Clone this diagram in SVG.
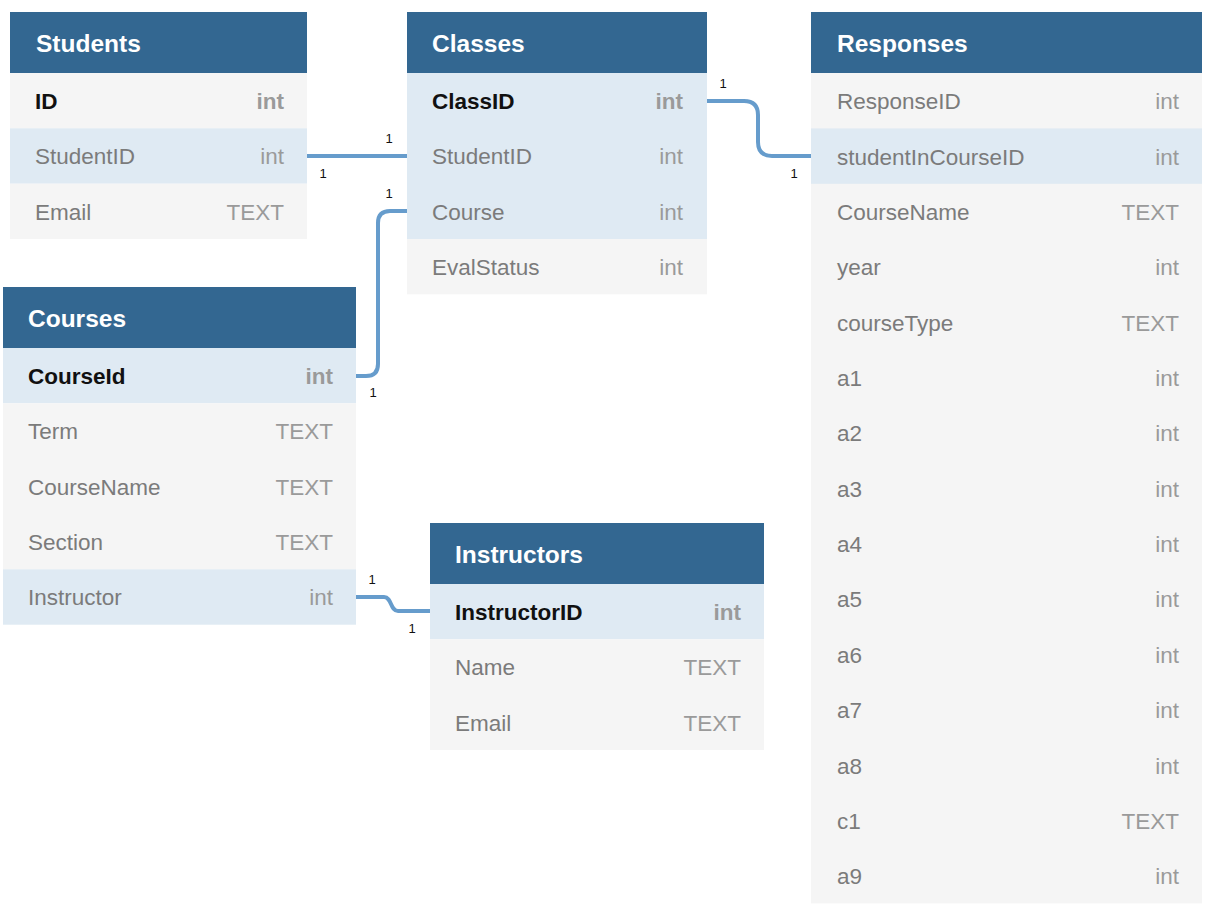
<svg xmlns="http://www.w3.org/2000/svg" width="1216" height="912" viewBox="0 0 1216 912">
<style>
.hd{fill:#336791}
.rg{fill:#f5f5f5}
.rh{fill:#dfeaf3}
.ht{font-family:"Liberation Sans",Arial,sans-serif;font-size:24.5px;font-weight:bold;fill:#ffffff}
.fn{font-family:"Liberation Sans",Arial,sans-serif;font-size:22.5px;fill:#7b7b7b}
.pk{font-family:"Liberation Sans",Arial,sans-serif;font-size:22.5px;font-weight:bold;fill:#111111}
.ty{font-family:"Liberation Sans",Arial,sans-serif;font-size:22.5px;fill:#9a9a9a;text-anchor:end}
.tk{font-family:"Liberation Sans",Arial,sans-serif;font-size:22.5px;font-weight:bold;fill:#9a9a9a;text-anchor:end}
.cn{fill:none;stroke:#669ccc;stroke-width:4}
.lb{font-family:"Liberation Sans",Arial,sans-serif;font-size:13px;fill:#111111;text-anchor:middle}
</style>
<rect width="1216" height="912" fill="#ffffff"/>

<g id="Students">
<rect class="hd" x="10" y="12" width="297" height="61"/>
<text class="ht" x="36" y="52">Students</text>
<rect class="rg" x="10" y="73" width="297" height="55.3"/>
<text class="pk" x="35" y="109">ID</text><text class="tk" x="284" y="109">int</text>
<rect class="rh" x="10" y="128.3" width="297" height="55.4"/>
<text class="fn" x="35" y="164">StudentID</text><text class="ty" x="284" y="164">int</text>
<rect class="rg" x="10" y="183.7" width="297" height="55.3"/>
<text class="fn" x="35" y="219.5">Email</text><text class="ty" x="284" y="219.5">TEXT</text>
</g>

<g id="Classes">
<rect class="hd" x="407" y="12" width="300" height="61"/>
<text class="ht" x="432" y="52">Classes</text>
<rect class="rh" x="407" y="73" width="300" height="166"/>
<text class="pk" x="432" y="109">ClassID</text><text class="tk" x="683" y="109">int</text>
<text class="fn" x="432" y="164">StudentID</text><text class="ty" x="683" y="164">int</text>
<text class="fn" x="432" y="219.5">Course</text><text class="ty" x="683" y="219.5">int</text>
<rect class="rg" x="407" y="239" width="300" height="55.3"/>
<text class="fn" x="432" y="275">EvalStatus</text><text class="ty" x="683" y="275">int</text>
</g>

<g id="Responses">
<rect class="hd" x="811" y="12" width="391" height="61"/>
<text class="ht" x="837" y="52">Responses</text>
<rect class="rg" x="811" y="73" width="391" height="830.4"/>
<rect class="rh" x="811" y="128.4" width="391" height="55.4"/>
<text class="fn" x="837" y="109">ResponseID</text><text class="ty" x="1179" y="109">int</text>
<text class="fn" x="837" y="164.5">studentInCourseID</text><text class="ty" x="1179" y="164.5">int</text>
<text class="fn" x="837" y="220">CourseName</text><text class="ty" x="1179" y="220">TEXT</text>
<text class="fn" x="837" y="275.2">year</text><text class="ty" x="1179" y="275.2">int</text>
<text class="fn" x="837" y="330.6">courseType</text><text class="ty" x="1179" y="330.6">TEXT</text>
<text class="fn" x="837" y="386">a1</text><text class="ty" x="1179" y="386">int</text>
<text class="fn" x="837" y="441.3">a2</text><text class="ty" x="1179" y="441.3">int</text>
<text class="fn" x="837" y="496.7">a3</text><text class="ty" x="1179" y="496.7">int</text>
<text class="fn" x="837" y="552">a4</text><text class="ty" x="1179" y="552">int</text>
<text class="fn" x="837" y="607.4">a5</text><text class="ty" x="1179" y="607.4">int</text>
<text class="fn" x="837" y="662.8">a6</text><text class="ty" x="1179" y="662.8">int</text>
<text class="fn" x="837" y="718.1">a7</text><text class="ty" x="1179" y="718.1">int</text>
<text class="fn" x="837" y="773.5">a8</text><text class="ty" x="1179" y="773.5">int</text>
<text class="fn" x="837" y="828.8">c1</text><text class="ty" x="1179" y="828.8">TEXT</text>
<text class="fn" x="837" y="884.2">a9</text><text class="ty" x="1179" y="884.2">int</text>
</g>

<g id="Courses">
<rect class="hd" x="3" y="287" width="353" height="61"/>
<text class="ht" x="28" y="327">Courses</text>
<rect class="rh" x="3" y="348" width="353" height="55.3"/>
<text class="pk" x="28" y="384">CourseId</text><text class="tk" x="333" y="384">int</text>
<rect class="rg" x="3" y="403.3" width="353" height="166"/>
<text class="fn" x="28" y="439.3">Term</text><text class="ty" x="333" y="439.3">TEXT</text>
<text class="fn" x="28" y="494.6">CourseName</text><text class="ty" x="333" y="494.6">TEXT</text>
<text class="fn" x="28" y="550">Section</text><text class="ty" x="333" y="550">TEXT</text>
<rect class="rh" x="3" y="569.3" width="353" height="55.4"/>
<text class="fn" x="28" y="605.3">Instructor</text><text class="ty" x="333" y="605.3">int</text>
</g>

<g id="Instructors">
<rect class="hd" x="430" y="523" width="334" height="61"/>
<text class="ht" x="455" y="563">Instructors</text>
<rect class="rh" x="430" y="584" width="334" height="55.3"/>
<text class="pk" x="455" y="620">InstructorID</text><text class="tk" x="741" y="620">int</text>
<rect class="rg" x="430" y="639.3" width="334" height="110.7"/>
<text class="fn" x="455" y="675.3">Name</text><text class="ty" x="741" y="675.3">TEXT</text>
<text class="fn" x="455" y="730.6">Email</text><text class="ty" x="741" y="730.6">TEXT</text>
</g>

<g id="connectors">
<path class="cn" d="M307,156 H407"/>
<path class="cn" d="M407,211 H390 Q378,211 378,223 V364 Q378,376 366,376 H356"/>
<path class="cn" d="M707,101 H744 Q758,101 758,115 V142 Q758,156 772,156 H811"/>
<path class="cn" d="M356,597 H384 C392,597 390,611 398,611 H430"/>
<text class="lb" x="389" y="143">1</text>
<text class="lb" x="323" y="178">1</text>
<text class="lb" x="389" y="198">1</text>
<text class="lb" x="373" y="397">1</text>
<text class="lb" x="723" y="88">1</text>
<text class="lb" x="794" y="178">1</text>
<text class="lb" x="372" y="584">1</text>
<text class="lb" x="412" y="633">1</text>
</g>
</svg>
